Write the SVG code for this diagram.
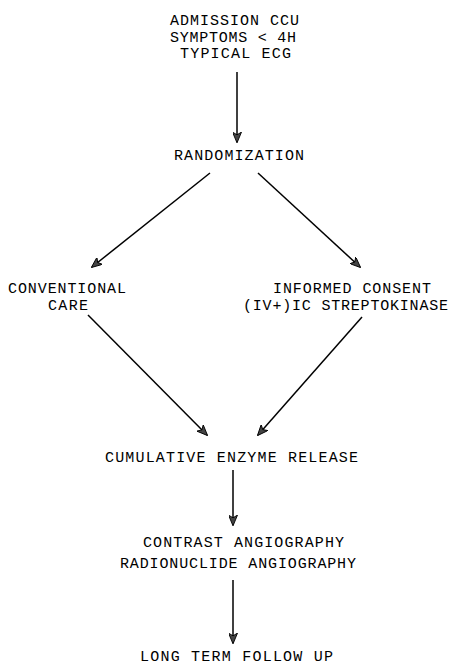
<svg xmlns="http://www.w3.org/2000/svg" width="452" height="665" viewBox="0 0 452 665">
  <defs>
    <style>
      .lbl { font-family: "Liberation Mono", "DejaVu Sans Mono", monospace; font-size: 15px; fill: #000; }
      .edge { stroke: #000; stroke-width: 1.5; fill: none; marker-end: url(#head); }
    </style>
    <marker id="head" viewBox="0 0 12 10" refX="11" refY="5" markerWidth="11" markerHeight="9" markerUnits="userSpaceOnUse" orient="auto">
      <path d="M0,0 L12,5 L0,10 L3,5 Z" fill="#444" stroke="#000" stroke-width="1"/>
    </marker>
  </defs>
  <rect width="452" height="665" fill="#fff"/>

  <g id="admission">
    <text class="lbl" x="170" y="25" textLength="129" lengthAdjust="spacing">ADMISSION CCU</text>
    <text class="lbl" x="170" y="42" textLength="126" lengthAdjust="spacing">SYMPTOMS &lt; 4H</text>
    <text class="lbl" x="180" y="58" textLength="111" lengthAdjust="spacing">TYPICAL ECG</text>
  </g>
  <g id="randomization">
    <text class="lbl" x="174" y="160" textLength="130" lengthAdjust="spacing">RANDOMIZATION</text>
  </g>
  <g id="conventional">
    <text class="lbl" x="8" y="293" textLength="118" lengthAdjust="spacing">CONVENTIONAL</text>
    <text class="lbl" x="48" y="310" textLength="40" lengthAdjust="spacing">CARE</text>
  </g>
  <g id="streptokinase">
    <text class="lbl" x="273" y="293" textLength="158" lengthAdjust="spacing">INFORMED CONSENT</text>
    <text class="lbl" x="243" y="310" textLength="205" lengthAdjust="spacing">(IV+)IC STREPTOKINASE</text>
  </g>
  <g id="enzyme">
    <text class="lbl" x="105" y="462" textLength="253" lengthAdjust="spacing">CUMULATIVE ENZYME RELEASE</text>
  </g>
  <g id="angiography">
    <text class="lbl" x="143" y="547" textLength="201" lengthAdjust="spacing">CONTRAST ANGIOGRAPHY</text>
    <text class="lbl" x="120" y="568" textLength="236" lengthAdjust="spacing">RADIONUCLIDE ANGIOGRAPHY</text>
  </g>
  <g id="followup">
    <text class="lbl" x="140" y="661" textLength="193" lengthAdjust="spacing">LONG TERM FOLLOW UP</text>
  </g>

  <g id="connectors">
    <line class="edge" x1="237" y1="72" x2="237" y2="142"/>
    <line class="edge" x1="210" y1="173" x2="92" y2="267"/>
    <line class="edge" x1="258" y1="173" x2="360" y2="267"/>
    <line class="edge" x1="88" y1="315" x2="207" y2="435"/>
    <line class="edge" x1="362" y1="317" x2="258" y2="435"/>
    <line class="edge" x1="233" y1="470" x2="233" y2="525"/>
    <line class="edge" x1="233" y1="580" x2="233" y2="643"/>
  </g>
</svg>
